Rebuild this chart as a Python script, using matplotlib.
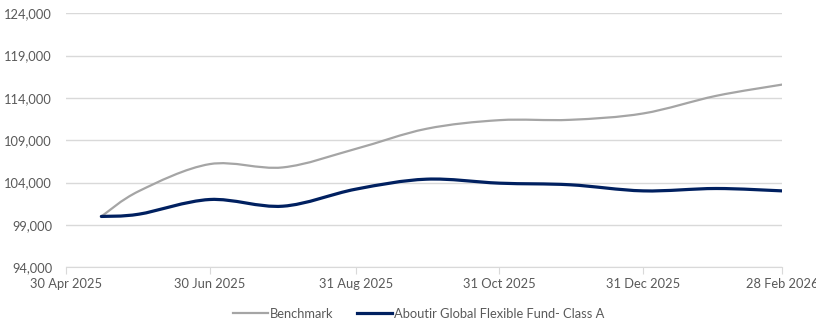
import matplotlib
matplotlib.use("Agg")
import matplotlib.pyplot as plt
import matplotlib.dates as mdates
from matplotlib.path import Path
from matplotlib.patches import PathPatch
from matplotlib.lines import Line2D
import numpy as np
from datetime import date

# datos
fechas = ["2025-05-15", "2025-05-31", "2025-06-30", "2025-07-31", "2025-08-31",
          "2025-09-30", "2025-10-31", "2025-11-30", "2025-12-31", "2026-01-31",
          "2026-02-28"]
benchmark = [100000, 103000, 106180, 105790, 107980, 110350, 111370, 111410,
             112160, 114240, 115570]
fondo = [100000, 100270, 102000, 101210, 103220, 104400, 103930, 103740,
         103020, 103300, 103020]
ticks_x = ["2025-04-30", "2025-06-30", "2025-08-31", "2025-10-31",
           "2025-12-31", "2026-02-28"]
ticks_y = [94000, 99000, 104000, 109000, 114000, 119000, 124000]
etiquetas = ["Benchmark", "Aboutir Global Flexible Fund- Class A"]

color_bench = "#A5A5A5"
color_fondo = "#002060"
color_texto = "#595959"

plt.rcParams["font.family"] = ["Lato", "DejaVu Sans"]


def num(d):
    return mdates.date2num(date.fromisoformat(d))


def curva_suave(x, y):
    # bezier tipo excel (catmull-rom) entre los puntos
    pts = np.column_stack([x, y])
    n = len(pts)
    verts = [pts[0]]
    codes = [Path.MOVETO]
    for i in range(n - 1):
        p0 = pts[i - 1] if i > 0 else pts[i]
        p1 = pts[i]
        p2 = pts[i + 1]
        p3 = pts[i + 2] if i + 2 < n else pts[i + 1]
        c1 = p1 + (p2 - p0) / 6.0
        c2 = p2 - (p3 - p1) / 6.0
        verts += [c1, c2, p2]
        codes += [Path.CURVE4] * 3
    return Path(verts, codes)


xs = np.array([num(d) for d in fechas])

fig = plt.figure(figsize=(8.16, 3.22), dpi=100)
ax = fig.add_axes([0.0809, 0.170, 0.8775, 0.789])

ax.add_patch(PathPatch(curva_suave(xs, benchmark), facecolor="none",
                       edgecolor=color_bench, lw=1.6, capstyle="round", zorder=3))
ax.add_patch(PathPatch(curva_suave(xs, fondo), facecolor="none",
                       edgecolor=color_fondo, lw=2.3, capstyle="round", zorder=4))

ax.set_xlim(num(ticks_x[0]), num(ticks_x[-1]))
ax.set_ylim(ticks_y[0], ticks_y[-1])
ax.set_xticks([num(d) for d in ticks_x])
ax.xaxis.set_major_formatter(mdates.DateFormatter("%d %b %Y"))
ax.set_yticks(ticks_y)
ax.yaxis.set_major_formatter(matplotlib.ticker.FuncFormatter(lambda v, p: f"{int(v):,}"))

ax.grid(axis="y", color="#D9D9D9", lw=1)
ax.set_axisbelow(True)
for s in ["top", "right", "left"]:
    ax.spines[s].set_visible(False)
ax.spines["bottom"].set_color("#D9D9D9")
ax.tick_params(axis="y", length=0, pad=10, labelsize=9.3, labelcolor=color_texto)
ax.tick_params(axis="x", length=5, color="#D9D9D9", pad=3, labelsize=9.3,
               labelcolor=color_texto)

handles = [Line2D([], [], color=color_bench, lw=1.6),
           Line2D([], [], color=color_fondo, lw=2.3)]
fig.legend(handles, etiquetas, loc="center", bbox_to_anchor=(0.513, 0.025),
           ncol=2, frameon=False, fontsize=9.3, labelcolor=color_texto,
           handlelength=2.7, handletextpad=0.1, columnspacing=1.9)

fig.savefig("out.png", dpi=100)
